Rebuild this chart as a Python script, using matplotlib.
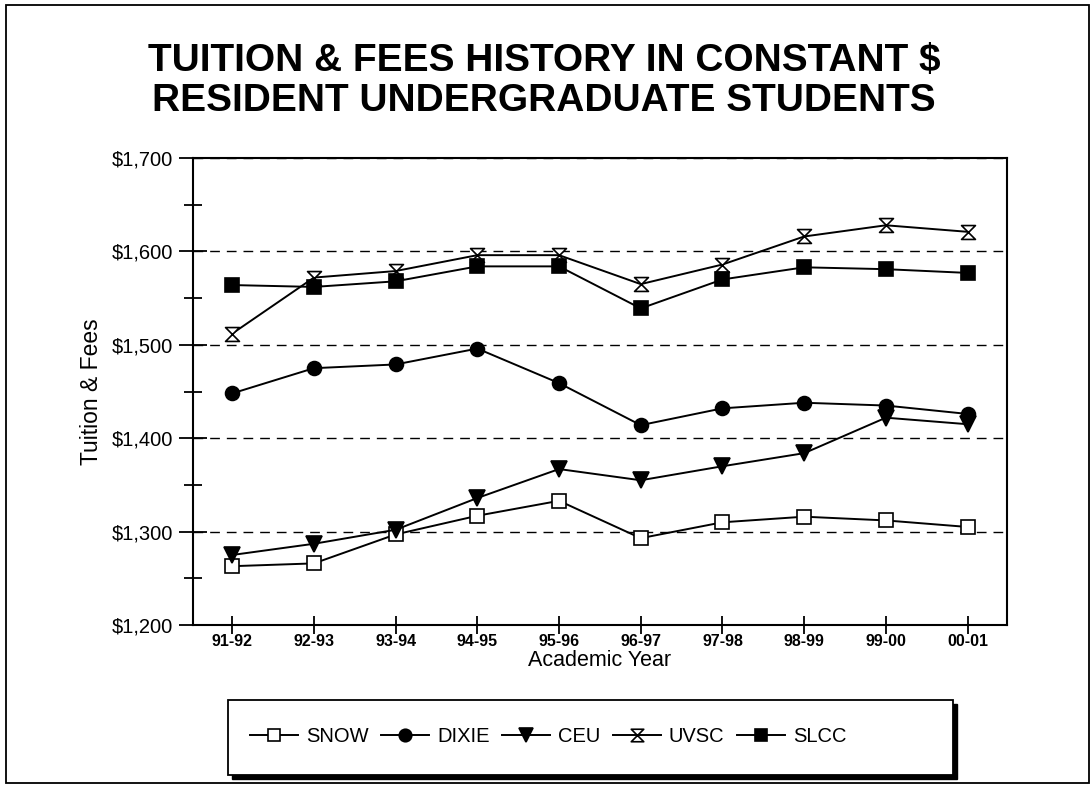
import matplotlib
matplotlib.use('Agg')
import matplotlib.pyplot as plt
from matplotlib.path import Path
from matplotlib.patches import Rectangle
from matplotlib.ticker import MultipleLocator, FuncFormatter

plt.rcParams['font.family'] = ['Liberation Sans', 'DejaVu Sans']

years = ['91-92', '92-93', '93-94', '94-95', '95-96', '96-97', '97-98', '98-99', '99-00', '00-01']
snow = [1263, 1266, 1297, 1317, 1333, 1293, 1310, 1316, 1312, 1305]
dixie = [1448, 1475, 1479, 1496, 1459, 1414, 1432, 1438, 1435, 1426]
ceu = [1275, 1287, 1302, 1336, 1367, 1355, 1370, 1384, 1422, 1415]
uvsc = [1512, 1572, 1579, 1596, 1596, 1565, 1586, 1616, 1628, 1621]
slcc = [1564, 1562, 1568, 1584, 1584, 1539, 1570, 1583, 1581, 1577]

# hourglass marker for UVSC
hourglass = Path([(-1, 1), (1, 1), (-1, -1), (1, -1), (-1, 1)],
                 [Path.MOVETO, Path.LINETO, Path.LINETO, Path.LINETO, Path.CLOSEPOLY])

series = [
    ('SNOW', snow, dict(marker='s', markerfacecolor='white', markersize=10)),
    ('DIXIE', dixie, dict(marker='o', markerfacecolor='black', markersize=10)),
    ('CEU', ceu, dict(marker='v', markerfacecolor='black', markersize=11)),
    ('UVSC', uvsc, dict(marker=hourglass, markerfacecolor='white', markersize=10)),
    ('SLCC', slcc, dict(marker='s', markerfacecolor='black', markersize=10)),
]

fig = plt.figure(figsize=(10.92, 7.87), dpi=100)
ax = fig.add_axes([0.1767, 0.2058, 0.7453, 0.5934])

x = list(range(len(years)))
for name, vals, style in series:
    ax.plot(x, vals, color='black', linewidth=1.4, markeredgecolor='black',
            markeredgewidth=1.2, label=name, **style)

ax.set_xlim(-0.48, len(years) - 1 + 0.48)
ax.set_ylim(1200, 1700)
ax.set_xticks(x)
ax.set_xticklabels(years, fontsize=11.5, fontweight='bold')
ax.yaxis.set_major_locator(MultipleLocator(100))
ax.yaxis.set_minor_locator(MultipleLocator(50))
ax.yaxis.set_major_formatter(FuncFormatter(lambda v, p: '${:,.0f}'.format(v)))
ax.tick_params(axis='y', which='major', direction='inout', length=20, width=1.3,
               labelsize=14.5, pad=4.4, right=False)
ax.tick_params(axis='y', which='minor', direction='inout', length=13, width=1.3)
ax.tick_params(axis='x', direction='inout', length=13, width=1.3, pad=0)

ax.yaxis.grid(True, which='major', color='black', linestyle=(0, (7, 5)), linewidth=1.0)
ax.set_axisbelow(True)
for s in ax.spines.values():
    s.set_linewidth(1.5)

ax.set_xlabel('Academic Year', fontsize=15.5, labelpad=1)
ax.set_ylabel('Tuition & Fees', fontsize=16.5, labelpad=6)

fig.text(0.498, 0.923, 'TUITION & FEES HISTORY IN CONSTANT $', ha='center', va='center',
         fontsize=28, fontweight='bold')
fig.text(0.498, 0.872, 'RESIDENT UNDERGRADUATE STUDENTS', ha='center', va='center',
         fontsize=28, fontweight='bold')

# outer border
fig.patches.append(Rectangle((6 / 1092, 4 / 787), 1083 / 1092, 778 / 787, transform=fig.transFigure,
                             fill=False, edgecolor='black', linewidth=1.3))

# legend box with drop shadow
lx0, lx1, ly0, ly1 = 228, 953, 700, 775
fig.patches.append(Rectangle(((lx0 + 4) / 1092, 1 - (ly1 + 4) / 787), (lx1 - lx0) / 1092,
                             (ly1 - ly0) / 787, transform=fig.transFigure,
                             facecolor='black', edgecolor='black', zorder=1))
fig.patches.append(Rectangle((lx0 / 1092, 1 - ly1 / 787), (lx1 - lx0) / 1092,
                             (ly1 - ly0) / 787, transform=fig.transFigure,
                             facecolor='white', edgecolor='black', linewidth=1.3, zorder=2))

handles, labels = ax.get_legend_handles_labels()
leg = fig.legend(handles, labels, loc='center', bbox_to_anchor=(0.502, 1 - 737 / 787),
                 ncol=5, frameon=False, fontsize=14.5, handlelength=2.4, handletextpad=0.4,
                 columnspacing=0.6, markerscale=0.9)
leg.set_zorder(5)

fig.savefig('out.png', dpi=100)
